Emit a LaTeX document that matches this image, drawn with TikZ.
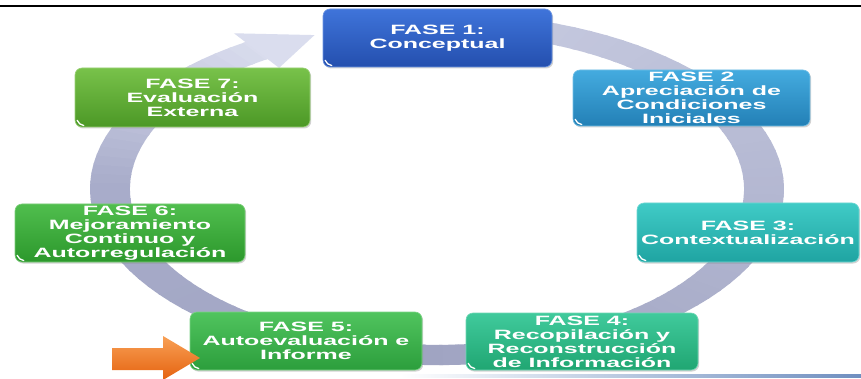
\documentclass[tikz,border=0pt]{standalone}
\usepackage{fontspec}
\newfontfamily\boxfont[FakeStretch=1.85]{Liberation Sans Bold}
\usetikzlibrary{shadows,calc}
\definecolor{ringA}{HTML}{C6CAE0}
\definecolor{ringB}{HTML}{A0A4C2}
\definecolor{ringC}{HTML}{A8ACCA}
\definecolor{ringD}{HTML}{DADDEE}
\definecolor{b1t}{HTML}{3F74DA}\definecolor{b1b}{HTML}{244FAE}
\definecolor{b2t}{HTML}{44ABDF}\definecolor{b2b}{HTML}{2380B6}
\definecolor{b3t}{HTML}{40CBC6}\definecolor{b3b}{HTML}{1FA4A2}
\definecolor{b4t}{HTML}{40CA9C}\definecolor{b4b}{HTML}{20A672}
\definecolor{b5t}{HTML}{50C45E}\definecolor{b5b}{HTML}{2C9E3C}
\definecolor{b6t}{HTML}{50BE4E}\definecolor{b6b}{HTML}{2C982C}
\definecolor{b7t}{HTML}{78C24A}\definecolor{b7b}{HTML}{4C9826}
\definecolor{orT}{HTML}{F8A055}\definecolor{orB}{HTML}{E5620F}
\definecolor{lineblue}{HTML}{6F8FC0}
\newcommand\myringseg[3]{%
  \fill[#3] plot[domain=#1:#2, samples=4, variable=\t]
    ({437+327*(1.061)*cos(\t)},{189+166*(1.061)*sin(\t)})
    -- plot[domain=#2:#1, samples=4, variable=\t]
    ({437+327*(0.939)*cos(\t)},{189+166*(0.939)*sin(\t)}) -- cycle;}
\tikzset{
  fase/.style 2 args={rectangle, rounded corners=7pt, top color=#1, bottom color=#2,
    draw=#1!75!white, line width=0.6pt, text=white,
    font=\boxfont\fontsize{13.5}{14}\selectfont, align=center, inner sep=0pt,
    drop shadow={opacity=0.35, shadow xshift=1.2pt, shadow yshift=-1.5pt}},
  glint/.style={white, line width=1.3pt, line cap=round}
}
\begin{document}
\begin{tikzpicture}[x=1pt,y=-1pt]
\useasboundingbox (0,0) rectangle (861,379);
\fill[white] (0,0) rectangle (861,379);
% ring
\foreach \a in {275,278,...,596}{%
  \ifdim \a pt<450pt
    \pgfmathsetmacro\p{(\a-275)/175*100}\colorlet{segc}{ringB!\p!ringA}%
  \else\ifdim \a pt<540pt
    \pgfmathsetmacro\p{(\a-450)/90*100}\colorlet{segc}{ringC!\p!ringB}%
  \else
    \pgfmathsetmacro\p{(\a-540)/57*100}\colorlet{segc}{ringD!\p!ringC}%
  \fi\fi
  \pgfmathsetmacro\b{\a+3.6}%
  \myringseg{\a}{\b}{segc}%
}
\fill[ringD] ({437+327*1.125*cos(596.5)},{189+166*1.125*sin(596.5)})
  -- ({437+327*cos(608)},{189+166*sin(608)})
  -- ({437+327*0.875*cos(596.5)},{189+166*0.875*sin(596.5)}) -- cycle;
% top and bottom lines
\draw[line width=2.5pt] (0,6) -- (861,6);
\shade[left color=white, right color=lineblue] (400,374.5) rectangle (861,377);
% boxes
\node[fase={b1t}{b1b}, minimum width=229pt, minimum height=58pt] (f1) at (437.5,38) {FASE 1:\\Conceptual};
\node[fase={b2t}{b2b}, minimum width=237pt, minimum height=56pt] (f2) at (691.5,98) {FASE 2\\Apreciación de\\Condiciones\\Iniciales};
\node[fase={b3t}{b3b}, minimum width=222pt, minimum height=59pt] (f3) at (748,232.5) {FASE 3:\\Contextualización};
\node[fase={b4t}{b4b}, minimum width=232pt, minimum height=57pt] (f4) at (582,341.5) {FASE 4:\\Recopilación y\\Reconstrucción\\de Información};
\node[fase={b5t}{b5b}, minimum width=232pt, minimum height=58pt] (f5) at (306,341) {FASE 5:\\Autoevaluación e\\Informe};
\node[fase={b6t}{b6b}, minimum width=230pt, minimum height=58pt] (f6) at (130,233) {FASE 6:\\Mejoramiento\\Continuo y\\Autorregulación};
\node[fase={b7t}{b7b}, minimum width=235pt, minimum height=59pt] (f7) at (192.5,97.5) {FASE 7:\\Evaluación\\Externa};
\foreach \n in {f1,f2,f3,f4,f5,f6,f7}{
  \draw[glint] ($(\n.south west)+(2.5,-7)$) to[bend right=30] ($(\n.south west)+(9,-1.8)$);
}
% orange arrow
\coordinate (tipA) at (200,358);
\shade[top color=orT, bottom color=orB] (112,348) -- (163,348) -- (163,336) -- (tipA)
  -- (163,380) -- (163,370) -- (112,370) -- cycle;
\end{tikzpicture}
\end{document}
